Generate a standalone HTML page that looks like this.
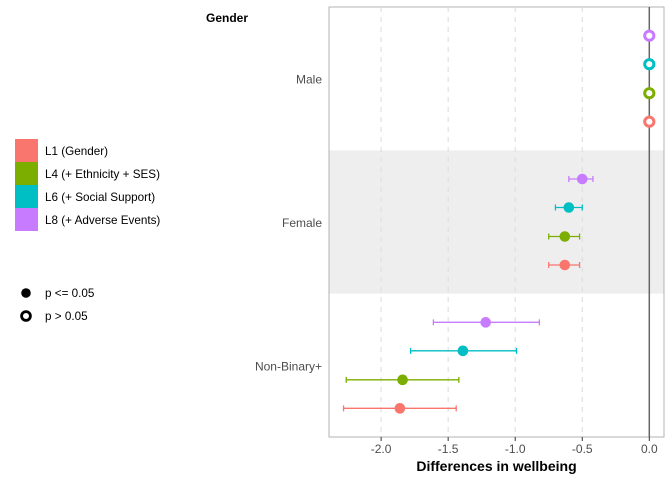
<!DOCTYPE html>
<html><head><meta charset="utf-8"><style>
body{margin:0;background:#fff;font-family:"Liberation Sans",sans-serif;}
svg text{font-family:"Liberation Sans",sans-serif;}
</style></head><body>
<svg id="chart" width="672" height="480" xmlns="http://www.w3.org/2000/svg">
<text x="206" y="22" font-size="12" font-weight="bold" fill="#000">Gender</text>
<g id="legend"></g>
<g id="plot"></g>
</svg>
<script>
const groups=["Male","Female","Non-Binary+"];
const models=["L8 (+ Adverse Events)","L6 (+ Social Support)","L4 (+ Ethnicity + SES)","L1 (Gender)"];
const colors=["#C77CFF","#00BFC4","#7CAE00","#F8766D"];
const estMale=[0,0,0,0];
const estFemale=[-0.5,-0.6,-0.63,-0.63];
const lowFemale=[-0.6,-0.7,-0.75,-0.75];
const highFemale=[-0.42,-0.5,-0.52,-0.52];
const estNB=[-1.22,-1.39,-1.84,-1.86];
const lowNB=[-1.61,-1.78,-2.26,-2.28];
const highNB=[-0.82,-0.99,-1.42,-1.44];
const sigMale=[false,false,false,false];
const sigFemale=[true,true,true,true];
const sigNB=[true,true,true,true];
const xTicks=[-2.0,-1.5,-1.0,-0.5,0.0];
const xTickLabels=["-2.0","-1.5","-1.0","-0.5","0.0"];

const NS="http://www.w3.org/2000/svg";
const L=329,R=664,T=7,B=437;
const x=v=>649.3+v*134.1;
const rowH=(B-T)/3;
const yc=i=>T+rowH*(i+0.5);
const off=[-43,-14.5,14.5,43];
function mk(tag,attrs,parent){const e=document.createElementNS(NS,tag);for(const k in attrs)e.setAttribute(k,attrs[k]);parent.appendChild(e);return e;}
const plot=document.getElementById('plot');
const bg=mk('rect',{x:L,y:T,width:R-L,height:B-T,fill:'#fff',stroke:'#b3b3b3'},plot);


const band=mk('rect',{x:L+0.5,y:T+rowH,width:R-L-1,height:rowH,fill:'#eeeeee'},plot);


xTicks.forEach((t,i)=>{
  if(t!==0){const g=mk('line',{x1:x(t),x2:x(t),y1:T,y2:B,stroke:'#dcdcdc','stroke-dasharray':'5,5'},plot);
  
  }
  const tk=mk('line',{x1:x(t),x2:x(t),y1:B,y2:B+4,stroke:'#333'},plot);
  
  
  const tl=mk('text',{x:x(t),y:B+16,'font-size':12,fill:'#4d4d4d','text-anchor':'middle'},plot);
  tl.textContent=xTickLabels[i];
  
  
});
const zl=mk('line',{x1:x(0),x2:x(0),y1:T,y2:B,stroke:'#666','stroke-width':1.5},plot);


groups.forEach((g,i)=>{
  const t=mk('text',{x:322,y:yc(i)+5,'font-size':12,fill:'#4d4d4d','text-anchor':'end'},plot);
  t.textContent=g;
  
  
});
const data=[[estMale,null,null,sigMale],[estFemale,lowFemale,highFemale,sigFemale],[estNB,lowNB,highNB,sigNB]];
data.forEach((d,gi)=>{
  models.forEach((m,mi)=>{
    const y=yc(gi)+off[mi],c=colors[mi];
    if(d[1]){
      const e=mk('path',{d:`M${x(d[1][mi])},${y}H${x(d[2][mi])}M${x(d[1][mi])},${y-3}V${y+3}M${x(d[2][mi])},${y-3}V${y+3}`,stroke:c,'stroke-width':1.3,fill:'none'},plot);
      
      
    }
    const p=d[3][mi]?mk('circle',{cx:x(d[0][mi]),cy:y,r:5.3,fill:c},plot):mk('circle',{cx:x(d[0][mi]),cy:y,r:4.6,fill:'#fff',stroke:c,'stroke-width':3},plot);
    
    
  });
});
const xt=mk('text',{x:(L+R)/2,y:471,'font-size':14,'font-weight':'bold','text-anchor':'middle',fill:'#000'},plot);
xt.textContent="Differences in wellbeing";


const leg=document.getElementById('legend');
const legOrder=[3,2,1,0];
legOrder.forEach((mi,k)=>{
  const r=mk('rect',{x:15,y:139+k*23,width:23,height:23,fill:colors[mi]},leg);
  
  
  const t=mk('text',{x:45,y:155+k*23,'font-size':11.7,fill:'#000'},leg);
  t.textContent=models[mi];
  
  
});
const c1=mk('circle',{cx:26,cy:293,r:4.8,fill:'#000'},leg);


const c2=mk('circle',{cx:26,cy:316,r:4.4,fill:'#fff',stroke:'#000','stroke-width':2.8},leg);


const t1=mk('text',{x:45,y:297,'font-size':11.7,fill:'#000'},leg);t1.textContent="p <= 0.05";


const t2=mk('text',{x:45,y:320,'font-size':11.7,fill:'#000'},leg);t2.textContent="p > 0.05";


</script>
</body></html>
